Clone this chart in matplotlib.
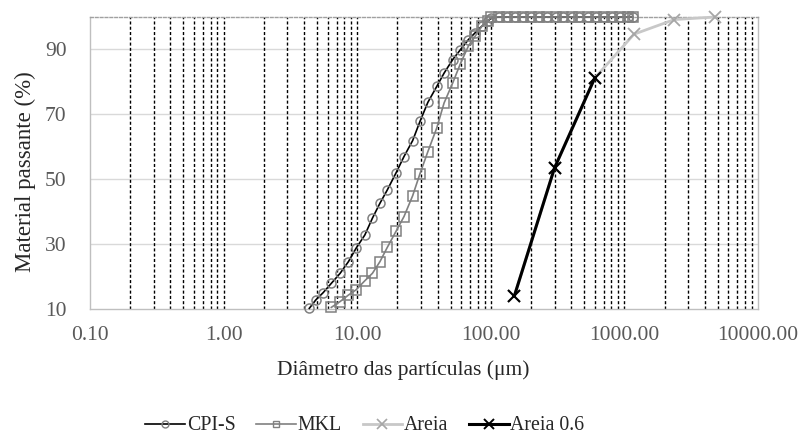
import matplotlib
matplotlib.use("Agg")
import matplotlib.pyplot as plt
from matplotlib.ticker import FixedLocator, FuncFormatter, NullLocator
from matplotlib.lines import Line2D

plt.rcParams['font.family'] = ['Liberation Serif', 'DejaVu Serif']

# ---- data ----
cpis_d = [4.38, 4.9, 5.55, 6.4, 7.45, 8.6, 9.8, 11.4, 13.0, 14.8, 16.8, 19.5, 22.4, 26.0,
          29.5, 33.8, 39.4, 44.7, 51.9, 59.2, 67.9, 76.2, 85.5, 94.5, 101, 116, 133, 153,
          175, 201, 231, 265, 305, 350, 402, 461, 530, 608, 698, 802, 920, 1057, 1150]
cpis_v = [10.2, 12.8, 15.0, 17.9, 21.0, 24.6, 28.7, 32.8, 38.0, 42.6, 46.7, 51.9, 57.0, 61.9,
          67.8, 73.7, 78.6, 82.7, 86.9, 89.9, 93.0, 95.1, 97.1, 98.7, 99.7, 100, 100, 100,
          100, 100, 100, 100, 100, 100, 100, 100, 100, 100, 100, 100, 100, 100, 100]

mkl_d = [6.4, 7.45, 8.6, 9.8, 11.4, 13.0, 14.8, 16.8, 19.5, 22.4, 26.0, 29.5, 33.8, 39.4,
         44.7, 51.9, 59.2, 67.9, 76.2, 85.5, 94.5, 101, 116, 133, 153, 175, 201, 231, 265,
         305, 350, 402, 461, 530, 608, 698, 802, 920, 1057, 1150]
mkl_v = [10.5, 12.3, 14.3, 15.9, 18.7, 21.0, 24.6, 29.0, 33.9, 38.5, 44.9, 51.7, 58.5, 65.8,
         73.5, 79.7, 85.6, 91.0, 94.0, 97.1, 98.7, 100, 100, 100, 100, 100, 100, 100, 100,
         100, 100, 100, 100, 100, 100, 100, 100, 100, 100, 100]

areia_d = [150, 300, 600, 1180, 2360, 4750]
areia_v = [14.0, 53.5, 81.2, 94.7, 99.2, 100]

areia06_d = [150, 300, 600]
areia06_v = [14.0, 53.5, 81.2]

x_ticks = [0.1, 1, 10, 100, 1000, 10000]
y_ticks = [10, 30, 50, 70, 90]

# ---- figure ----
FS = 15.5
fig = plt.figure(figsize=(8.01, 4.37), dpi=100)
ax = fig.add_axes([90/801, 1-309/437, (758-90)/801, (309-17)/437])
ax.set_xscale('log')
ax.set_xlim(0.1, 10000)
ax.set_ylim(10, 100)

# vertical dashed grid lines at 1..9 x 10^k (inside the range)
for k in range(-1, 4):
    for m in range(1, 10):
        xv = m * 10.0**k
        if xv <= 0.1 or xv >= 10000:
            continue
        ax.axvline(xv, color='black', lw=1.0, ls=(0, (2.2, 1.6)), zorder=1)
for yv in y_ticks[1:]:
    ax.axhline(yv, color='#d9d9d9', lw=1.0, zorder=0.5)

gray = '#808080'
ax.plot(areia_d, areia_v, color='#c8c8c8', lw=2.0, marker='x', ms=8, mec='#a6a6a6',
        mew=1.3, zorder=3, clip_on=False)
ax.plot(cpis_d, cpis_v, color='black', lw=1.2, marker='o', ms=6.5, mfc='none', mec=gray,
        mew=1.1, zorder=4, clip_on=False)
ax.plot(mkl_d, mkl_v, color=gray, lw=1.2, marker='s', ms=6.5, mfc='none', mec=gray,
        mew=1.1, zorder=4, clip_on=False)
ax.plot(areia06_d, areia06_v, color='black', lw=2.2, marker='x', ms=8, mec='black',
        mew=1.5, zorder=5, clip_on=False)

ax.xaxis.set_major_locator(FixedLocator(x_ticks))
ax.xaxis.set_minor_locator(NullLocator())
ax.xaxis.set_major_formatter(FuncFormatter(lambda v, p: f"{v:.2f}"))
ax.set_yticks(y_ticks)
ax.tick_params(axis='both', length=0, labelsize=FS, labelcolor='#595959')
ax.tick_params(axis='x', pad=12)
ax.tick_params(axis='y', pad=17)

for s in ['left', 'right', 'bottom']:
    ax.spines[s].set_color('#bfbfbf')
    ax.spines[s].set_linewidth(1.0)
ax.spines['top'].set_color('#a0a0a0')
ax.spines['top'].set_linestyle((0, (2, 1.5)))
ax.spines['top'].set_linewidth(1.0)

ax.set_xlabel('Diâmetro das partículas (μm)', fontsize=FS, color='#262626')
ax.set_ylabel('Material passante (%)', fontsize=16.5, color='#262626')
ax.xaxis.set_label_coords(0.469, -0.175)
ax.yaxis.set_label_coords(-0.081, 0.47)

handles = [
    Line2D([], [], color='black', lw=1.2, marker='o', ms=5, mfc='none', mec=gray, mew=1.0),
    Line2D([], [], color=gray, lw=1.2, marker='s', ms=5, mfc='none', mec=gray, mew=1.0),
    Line2D([], [], color='#c8c8c8', lw=2.0, marker='x', ms=7, mec='#a6a6a6', mew=1.2),
    Line2D([], [], color='black', lw=2.2, marker='x', ms=7, mec='black', mew=1.4),
]
fig.legend(handles, ['CPI-S', 'MKL', 'Areia', 'Areia 0.6'], loc='center',
           bbox_to_anchor=(365/801, 1-426/437), ncol=4, frameon=False, fontsize=14.3,
           handlelength=2.0, handletextpad=0.08, columnspacing=1.05, labelcolor='#262626')

fig.savefig('out.png', dpi=100)
